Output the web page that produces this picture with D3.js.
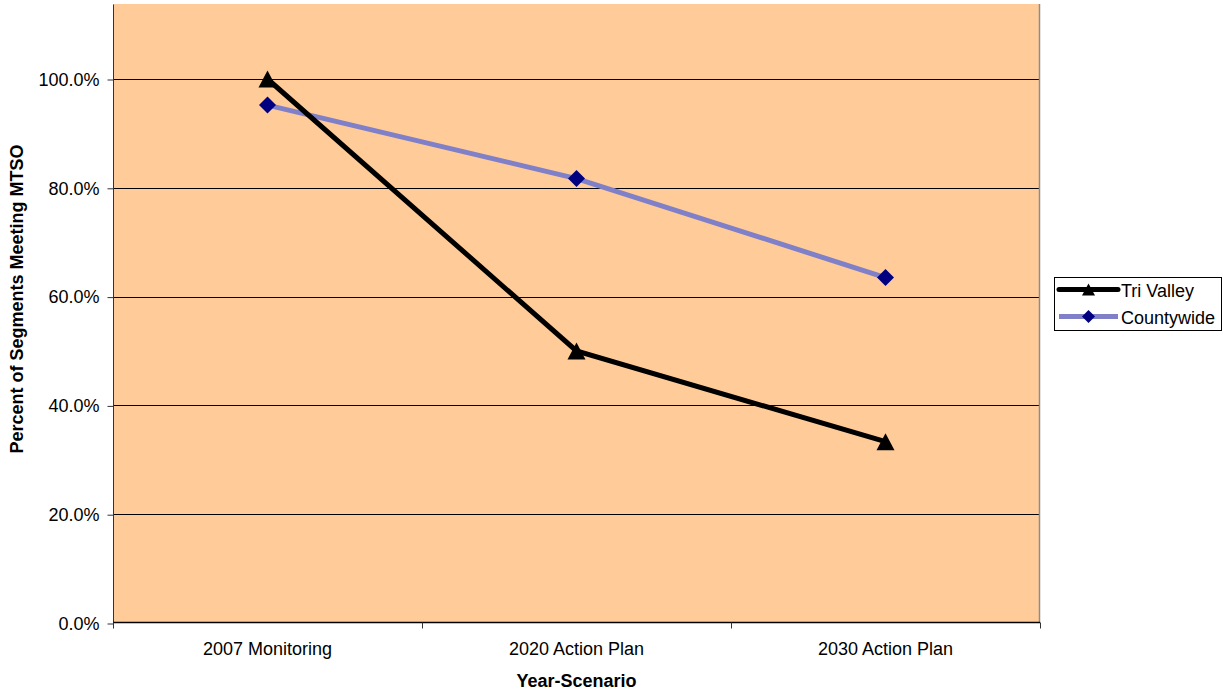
<!DOCTYPE html>
<html>
<head>
<meta charset="utf-8">
<script src="https://cdn.jsdelivr.net/npm/d3@7"></script>
<style>
  html, body { margin: 0; padding: 0; background: #fff; }
  svg { display: block; font-family: "Liberation Sans", Arial, sans-serif; }
</style>
</head>
<body>
<svg id="chart" width="1230" height="694"></svg>
<script>
// Scenario categories along the x axis
const categories = ["2007 Monitoring", "2020 Action Plan", "2030 Action Plan"];
// Share of segments meeting the MTSO, per scenario
const triValley = [1.0, 0.5, 0.3333];
const countywide = [0.952, 0.817, 0.635];
const seriesNames = ["Tri Valley", "Countywide"];
const yTicks = [0, 0.2, 0.4, 0.6, 0.8, 1.0];

const svg = d3.select("#chart");
const plot = { left: 113, right: 1040, top: 4, bottom: 623 };

const x = d3.scaleBand().domain(categories).range([plot.left, plot.right]);
const y = d3.scaleLinear().domain([0, 1.2]).range([plot.bottom, plot.bottom - 1.2 * 544]);

// plot background
svg.append("rect")
  .attr("x", plot.left).attr("y", plot.top)
  .attr("width", plot.right - plot.left).attr("height", plot.bottom - plot.top)
  .attr("fill", "#FFCC99");

// horizontal gridlines
svg.append("g").selectAll("line")
  .data(yTicks.filter(d => d > 0))
  .join("line")
  .attr("x1", plot.left).attr("x2", plot.right)
  .attr("y1", d => Math.round(y(d)) + 0.5).attr("y2", d => Math.round(y(d)) + 0.5)
  .attr("stroke", "#000").attr("stroke-width", 1);

// right border of the plot area
svg.append("line")
  .attr("x1", plot.right - 0.5).attr("x2", plot.right - 0.5)
  .attr("y1", plot.top).attr("y2", plot.bottom)
  .attr("stroke", "#8c8c8c").attr("stroke-width", 1.5);

// y axis
const yAxis = d3.axisLeft(y).tickValues(yTicks).tickFormat(d3.format(".1%")).tickSize(6).tickPadding(8);
const gy = svg.append("g").attr("transform", `translate(${plot.left + 0.5},0.5)`).call(yAxis);
gy.select(".domain").attr("d", `M0,${plot.top}V${plot.bottom}`).attr("stroke", "#333");
gy.selectAll(".tick line").attr("stroke", "#333");
gy.selectAll("text").attr("font-size", 18).attr("fill", "#000")
  .attr("font-family", "Liberation Sans, Arial, sans-serif");

// x axis with ticks at category boundaries
const gx = svg.append("g").attr("transform", `translate(0,${plot.bottom - 0.5})`);
gx.append("line").attr("x1", plot.left).attr("x2", plot.right)
  .attr("stroke", "#000").attr("stroke-width", 1.5);
const bounds = categories.map(c => x(c)).concat([x(categories[categories.length - 1]) + x.bandwidth()]);
gx.selectAll("line.tk").data(bounds).join("line").attr("class", "tk")
  .attr("x1", d => Math.round(d) + 0.5).attr("x2", d => Math.round(d) + 0.5)
  .attr("y1", 0).attr("y2", 6).attr("stroke", "#333");
gx.selectAll("text").data(categories).join("text")
  .attr("x", d => x(d) + x.bandwidth() / 2).attr("y", 32)
  .attr("text-anchor", "middle").attr("font-size", 18).attr("fill", "#000")
  .text(d => d);

// axis titles
svg.append("text")
  .attr("x", x(categories[1]) + x.bandwidth() / 2).attr("y", 687)
  .attr("text-anchor", "middle").attr("font-size", 18).attr("font-weight", "bold")
  .text("Year-Scenario");
svg.append("text")
  .attr("transform", `translate(23,299) rotate(-90)`)
  .attr("text-anchor", "middle").attr("font-size", 18).attr("font-weight", "bold")
  .text("Percent of Segments Meeting MTSO");

const cx = d => x(d) + x.bandwidth() / 2;
const line = d3.line().x(d => cx(d.c)).y(d => y(d.v));

// marker shapes, centred on their bounding box
const triPath = (w, h) => `M0,${-h / 2}L${w / 2},${h / 2}L${-w / 2},${h / 2}Z`;
const diaPath = (w, h) => `M0,${-h / 2}L${w / 2},0L0,${h / 2}L${-w / 2},0Z`;

const triData = categories.map((c, i) => ({ c, v: triValley[i] }));
const cwData = categories.map((c, i) => ({ c, v: countywide[i] }));

// Countywide series
svg.append("path").datum(cwData).attr("d", line)
  .attr("fill", "none").attr("stroke", "#8080C8").attr("stroke-width", 5);
svg.append("g").selectAll("path").data(cwData).join("path")
  .attr("transform", d => `translate(${cx(d.c)},${y(d.v)})`)
  .attr("d", diaPath(17, 17)).attr("fill", "#000080");

// Tri Valley series
svg.append("path").datum(triData).attr("d", line)
  .attr("fill", "none").attr("stroke", "#000").attr("stroke-width", 5);
svg.append("g").selectAll("path").data(triData).join("path")
  .attr("transform", d => `translate(${cx(d.c)},${y(d.v)})`)
  .attr("d", triPath(18, 17)).attr("fill", "#000");

// legend
const lg = svg.append("g");
lg.append("rect").attr("x", 1054.5).attr("y", 277.5).attr("width", 167).attr("height", 53)
  .attr("fill", "#fff").attr("stroke", "#000").attr("stroke-width", 1);
const legendRows = [
  { name: seriesNames[0], color: "#000", d: triPath(13, 12), mark: "#000" },
  { name: seriesNames[1], color: "#8080C8", d: diaPath(13, 13), mark: "#000080" }
];
legendRows.forEach((r, i) => {
  const yy = 289.5 + i * 27;
  lg.append("line").attr("x1", 1059).attr("x2", 1118).attr("y1", yy).attr("y2", yy)
    .attr("stroke", r.color).attr("stroke-width", 5)
    .attr("stroke-linecap", i === 0 ? "round" : "butt");
  lg.append("path").attr("transform", `translate(1088.5,${yy})`)
    .attr("d", r.d).attr("fill", r.mark);
  lg.append("text").attr("x", 1121).attr("y", yy + 7).attr("font-size", 18).text(r.name);
});
</script>
</body>
</html>
